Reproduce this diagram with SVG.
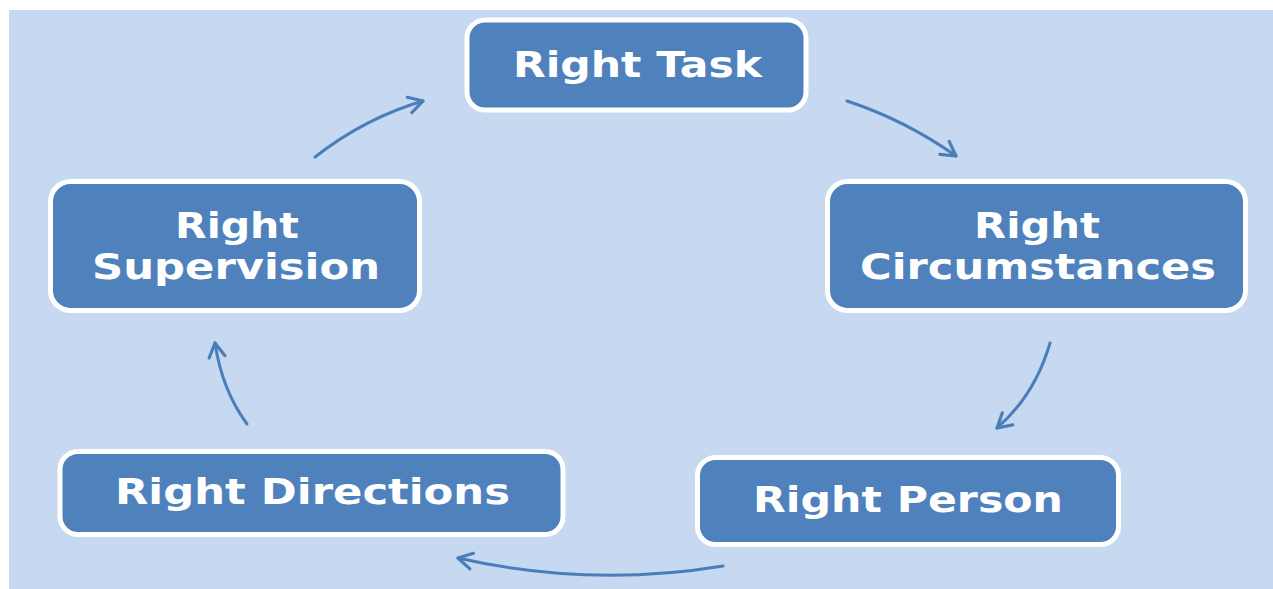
<svg xmlns="http://www.w3.org/2000/svg" width="1273" height="589" viewBox="0 0 1273 589">
  <style>
    .box { fill: #4f81bd; stroke: #ffffff; stroke-width: 5; }
    .lbl { fill: #ffffff; font-family: "DejaVu Sans", "Liberation Sans", sans-serif; font-weight: bold; font-size: 35px; text-anchor: start; }
    .conn { fill: none; stroke: #4a7ebb; stroke-width: 3; stroke-linecap: round; }
  </style>
  <defs>
    <marker id="arrow" markerUnits="userSpaceOnUse" viewBox="-16 -10 20 20" refX="0" refY="0" markerWidth="20" markerHeight="20" orient="auto" overflow="visible">
      <path d="M -14 -8 L 0 0 L -14 8" fill="none" stroke="#4a7ebb" stroke-width="3.2" stroke-linecap="round" stroke-linejoin="round"/>
    </marker>
  </defs>
  <rect x="9" y="10" width="1264" height="579" fill="#c6d9f1"/>

  <g id="connectors">
    <path class="conn" d="M 847 101 Q 905 120 956 156" marker-end="url(#arrow)"/>
    <path class="conn" d="M 1050 343 Q 1035 395 997 428" marker-end="url(#arrow)"/>
    <path class="conn" d="M 723 566 Q 590 588 458 558" marker-end="url(#arrow)"/>
    <path class="conn" d="M 247 424 Q 222 390 215 343" marker-end="url(#arrow)"/>
    <path class="conn" d="M 315 157 Q 365 118 423 101" marker-end="url(#arrow)"/>
  </g>

  <g id="node-task">
    <rect class="box" x="467" y="20" width="339" height="90" rx="18"/>
    <text class="lbl" x="513" y="77" textLength="249" lengthAdjust="spacingAndGlyphs">Right Task</text>
  </g>
  <g id="node-circumstances">
    <rect class="box" x="827.5" y="181.5" width="418" height="129" rx="20"/>
    <text class="lbl" x="974" y="238" textLength="126" lengthAdjust="spacingAndGlyphs">Right</text>
    <text class="lbl" x="860" y="279" textLength="356" lengthAdjust="spacingAndGlyphs">Circumstances</text>
  </g>
  <g id="node-person">
    <rect class="box" x="697.5" y="457.5" width="421" height="87" rx="18"/>
    <text class="lbl" x="753" y="512" textLength="310" lengthAdjust="spacingAndGlyphs">Right Person</text>
  </g>
  <g id="node-directions">
    <rect class="box" x="60" y="451.5" width="503" height="83" rx="18"/>
    <text class="lbl" x="115" y="504" textLength="395" lengthAdjust="spacingAndGlyphs">Right Directions</text>
  </g>
  <g id="node-supervision">
    <rect class="box" x="50.5" y="181.5" width="369" height="129" rx="20"/>
    <text class="lbl" x="175" y="238" textLength="124" lengthAdjust="spacingAndGlyphs">Right</text>
    <text class="lbl" x="92" y="279" textLength="288" lengthAdjust="spacingAndGlyphs">Supervision</text>
  </g>
</svg>
